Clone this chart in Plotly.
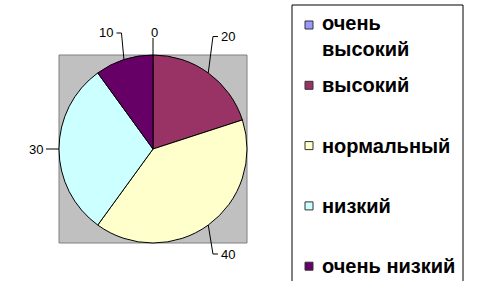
import math
import plotly.graph_objects as go

# ---- data ----
categories = ["очень высокий", "высокий", "нормальный", "низкий", "очень низкий"]
legend_text = ["очень<br>высокий", "высокий", "нормальный", "низкий", "очень низкий"]
values = [0, 20, 40, 30, 10]
colors = ["#9999FF", "#993366", "#FFFFCC", "#CCFFFF", "#660066"]

# ---- geometry (pixels) ----
W, H = 478, 281
cx, cy, r = 153, 149, 94


def px(x):
    return x / W


def py(y):
    return 1 - y / H


fig = go.Figure()
fig.add_trace(go.Pie(
    labels=categories,
    values=values,
    sort=False,
    direction="clockwise",
    rotation=0,
    marker=dict(colors=colors, line=dict(color="#000000", width=1)),
    textinfo="none",
    hoverinfo="label+value",
    showlegend=False,
    domain=dict(x=[px(cx - r), px(cx + r)], y=[py(cy + r), py(cy - r)]),
))

shapes = []
annotations = []

# gray plot area behind the pie
shapes.append(dict(type="rect", xref="paper", yref="paper",
                   x0=px(cx - r), x1=px(cx + r), y0=py(cy + r), y1=py(cy - r),
                   fillcolor="#C0C0C0", line=dict(color="#808080", width=1), layer="below"))

# data labels with leader lines, computed from slice mid-angles
total = sum(values)
acc = 0.0
a_off, b_off = 8, 45
ymin, ymax = 33, 254
lab_font = dict(family="Arial, Liberation Sans", size=13, color="#000000")
for v in values:
    mid = (acc + v / 2) / total * 2 * math.pi
    acc += v
    s, c = math.sin(mid), math.cos(mid)
    x0, y0 = cx + r * s, cy - r * c
    ex = cx + (r + a_off) * s
    ey = min(max(cy - (r + b_off) * c, ymin), ymax)
    line = dict(color="#000000", width=1)
    if abs(s) < 0.05:
        shapes.append(dict(type="line", xref="paper", yref="paper",
                           x0=px(x0), y0=py(y0), x1=px(x0), y1=py(ey + 5), line=line))
        annotations.append(dict(x=px(x0 + 1), y=py(ey), xref="paper", yref="paper",
                                text=str(v), showarrow=False, xanchor="center",
                                yanchor="middle", font=lab_font))
    else:
        sg = 1 if s > 0 else -1
        shapes.append(dict(type="line", xref="paper", yref="paper",
                           x0=px(x0), y0=py(y0), x1=px(ex), y1=py(ey), line=line))
        shapes.append(dict(type="line", xref="paper", yref="paper",
                           x0=px(ex), y0=py(ey), x1=px(ex + sg * 5), y1=py(ey), line=line))
        annotations.append(dict(x=px(ex + sg * 6), y=py(ey), xref="paper", yref="paper",
                                text=str(v), showarrow=False,
                                xanchor="left" if sg > 0 else "right",
                                yanchor="middle", font=lab_font))

# legend box
shapes.append(dict(type="rect", xref="paper", yref="paper",
                   x0=px(292), x1=px(463), y0=py(290), y1=py(5),
                   fillcolor="rgba(0,0,0,0)", line=dict(color="#000000", width=1)))
leg_font = dict(family="Arial, Liberation Sans", size=20, color="#000000")
step = 60.3
line_h = 23
for i, (t, col) in enumerate(zip(legend_text, colors)):
    yc = 25 + i * step
    shapes.append(dict(type="rect", xref="paper", yref="paper",
                       x0=px(305), x1=px(313), y0=py(yc + 4), y1=py(yc - 4),
                       fillcolor=col, line=dict(color="#333333", width=1)))
    nlines = t.count("<br>") + 1
    annotations.append(dict(x=px(320), y=py(yc + (nlines - 1) * line_h / 2),
                            xref="paper", yref="paper", text="<b>" + t + "</b>",
                            showarrow=False, xanchor="left", yanchor="middle",
                            align="left", font=leg_font))

fig.update_layout(
    width=W, height=H,
    margin=dict(l=0, r=0, t=0, b=0),
    paper_bgcolor="#FFFFFF",
    plot_bgcolor="#FFFFFF",
    shapes=shapes,
    annotations=annotations,
    showlegend=False,
)

fig.write_html("out.html")
